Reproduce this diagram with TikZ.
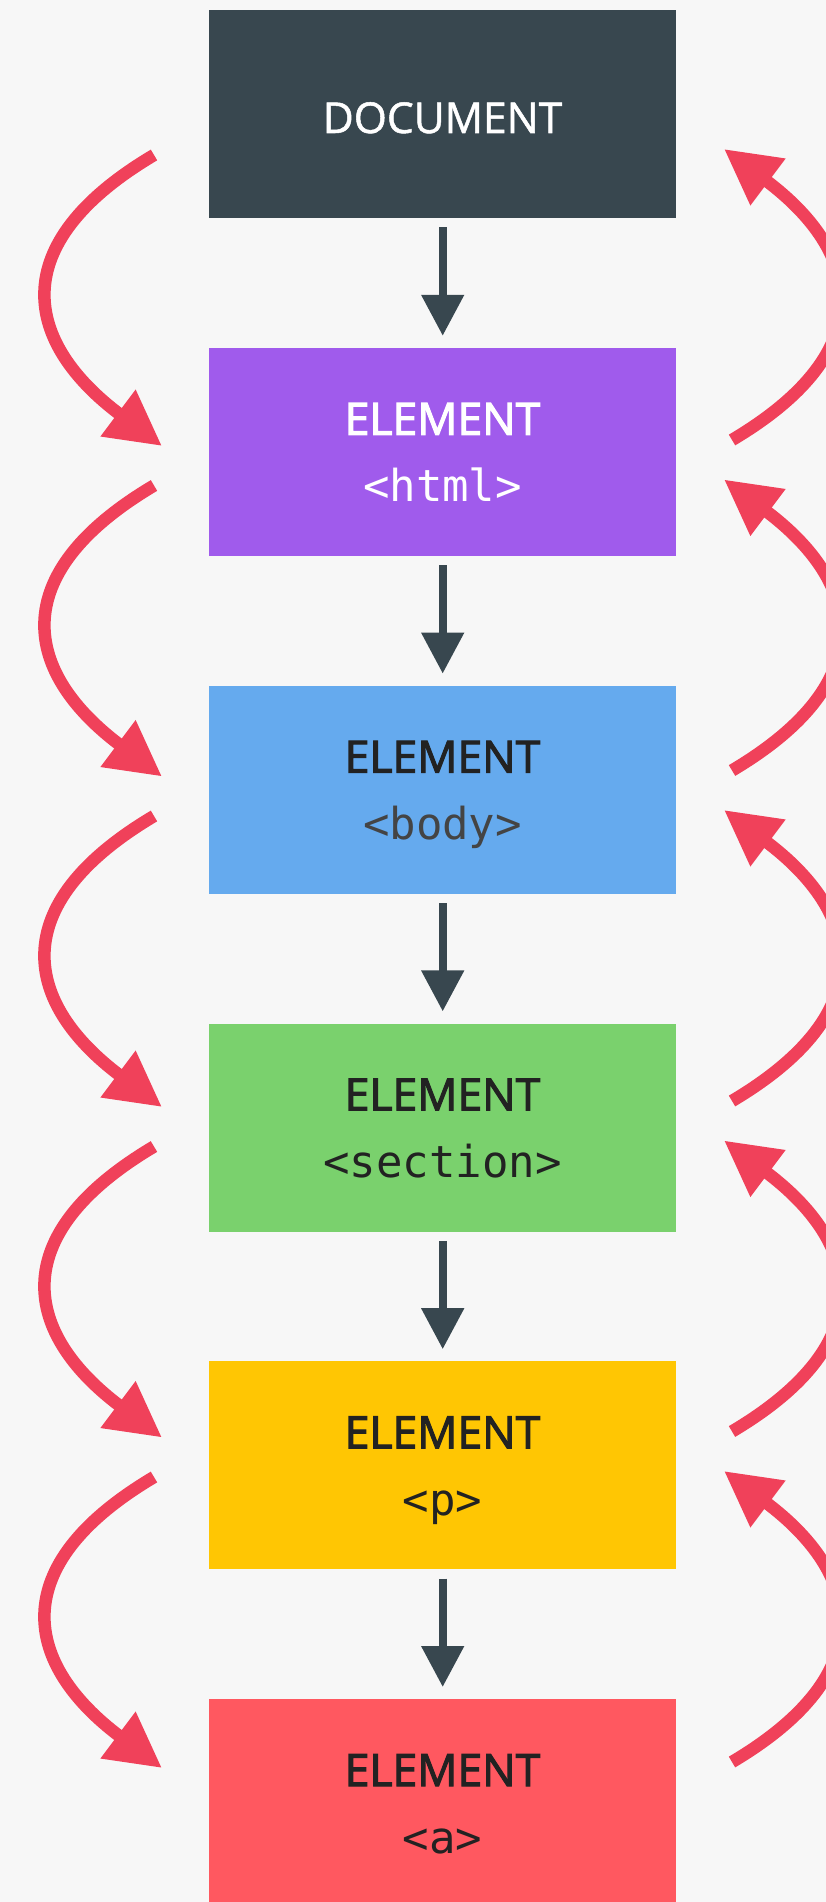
\documentclass[tikz,border=0pt]{standalone}
\usepackage{fontspec}
\usetikzlibrary{arrows.meta}
\newfontfamily\labelfont{Open Sans}[FakeBold=2.4]
\newfontfamily\docfont{Open Sans}[FakeBold=1.2]
\newfontfamily\codefont{DejaVu Sans Mono}
\definecolor{bgc}{RGB}{247,247,247}
\definecolor{docc}{RGB}{56,71,79}
\definecolor{htmlc}{RGB}{160,91,236}
\definecolor{bodyc}{RGB}{101,170,238}
\definecolor{secc}{RGB}{122,209,109}
\definecolor{pc}{RGB}{255,198,3}
\definecolor{ac}{RGB}{255,88,96}
\definecolor{redc}{RGB}{240,65,90}
\definecolor{darkt}{RGB}{34,34,34}
\definecolor{grayt}{RGB}{68,68,68}
\tikzset{
  boxnode/.style={rectangle, draw=none, minimum width=467pt, minimum height=208pt, inner sep=0pt, anchor=north west},
  titletext/.style={anchor=base, inner sep=0pt, font=\labelfont\fontsize{44.5}{44.5}\selectfont},
  codetext/.style={anchor=base, inner sep=0pt, font=\codefont\fontsize{44}{44}\selectfont},
  downarrow/.style={draw=docc, line width=8pt, -{Triangle[length=41pt,width=41pt]}},
  walkarrow/.style={draw=redc, line width=12.5pt, -{Triangle[length=55pt,width=55pt]}}
}
\begin{document}
\begin{tikzpicture}[x=1pt,y=-1pt]
\useasboundingbox (0,0) rectangle (826,1902);
\clip (0,0) rectangle (826,1902);
\fill[bgc] (0,0) rectangle (826,1902);
% boxes
\node[boxnode, fill=docc]  (b0) at (209,10) {};
\node[boxnode, fill=htmlc] (b1) at (209,347.8) {};
\node[boxnode, fill=bodyc] (b2) at (209,685.6) {};
\node[boxnode, fill=secc]  (b3) at (209,1023.4) {};
\node[boxnode, fill=pc]    (b4) at (209,1361.2) {};
\node[boxnode, fill=ac]    (b5) at (209,1699) {};
% texts
\node[anchor=base, inner sep=0pt, font=\docfont\fontsize{42.5}{42.5}\selectfont, text=white] (t0) at (442.5,133) {DOCUMENT};
\node[titletext, text=white] (t1) at (442.5,347.8+87) {ELEMENT};
\node[codetext, text=white]  (c1) at (442.5,347.8+154) {<html>};
\node[titletext, text=darkt] (t2) at (442.5,685.6+87) {ELEMENT};
\node[codetext, text=grayt]  (c2) at (442.5,685.6+154) {<body>};
\node[titletext, text=darkt] (t3) at (442.5,1023.4+87) {ELEMENT};
\node[codetext, text=darkt]  (c3) at (442.5,1023.4+154) {<section>};
\node[titletext, text=darkt] (t4) at (442.5,1361.2+87) {ELEMENT};
\node[codetext, text=darkt]  (c4) at (442.5,1361.2+154) {<p>};
\node[titletext, text=darkt] (t5) at (442.5,1699+87) {ELEMENT};
\node[codetext, text=darkt]  (c5) at (442.5,1699+154) {<a>};
% down arrows
\foreach \i/\j in {0/1,1/2,2/3,3/4,4/5}{
  \draw[downarrow] ([yshift=-9pt]b\i.south) -- ([yshift=12pt]b\j.north);
}
% curved walk arrows
\foreach \k in {0,1,2,3,4}{
  \pgfmathsetmacro{\dy}{330.5*\k}
  \coordinate (ls\k) at (154,155+\dy);
  \coordinate (lt\k) at (162,446+\dy);
  \coordinate (rs\k) at (732,440+\dy);
  \coordinate (rt\k) at (724,149+\dy);
  \draw[walkarrow] (ls\k) .. controls (2.6,244.8+\dy) and (24.4,342.8+\dy) .. (lt\k);
  \draw[walkarrow] (rs\k) .. controls (883.4,350.2+\dy) and (861.6,252.2+\dy) .. (rt\k);
}
\end{tikzpicture}
\end{document}
